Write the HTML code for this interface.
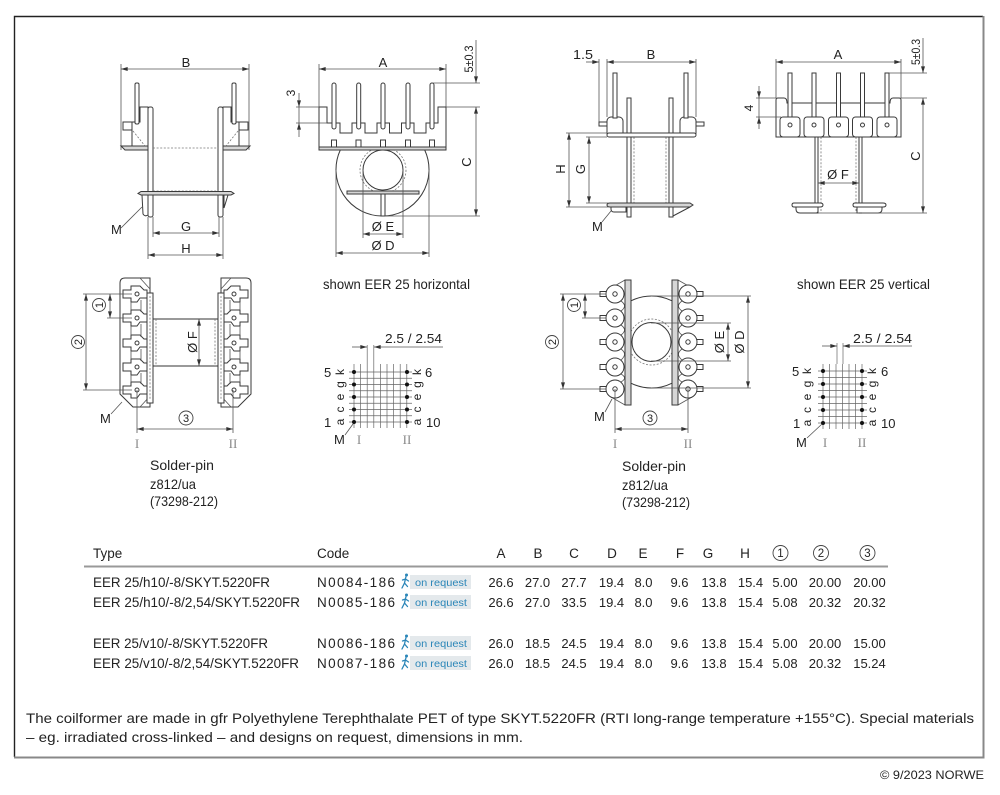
<!DOCTYPE html>
<html><head><meta charset="utf-8"><style>
html,body{margin:0;padding:0;background:#fff}
svg{display:block}
text{font-family:"Liberation Sans",sans-serif;fill:#222}
.o{fill:#fff;stroke:#3a3a3a;stroke-width:1}
.g{fill:#d6d6d6;stroke:#3a3a3a;stroke-width:1}
.d{fill:none;stroke:#555;stroke-width:.8}
.dd{fill:none;stroke:#777;stroke-width:.8;stroke-dasharray:2 1.6}
.gr{fill:none;stroke:#666;stroke-width:.7}
.rn{font-family:"Liberation Serif",serif;fill:#888;font-size:13px}
.bl{fill:#2b86b8}
</style></head><body>
<svg width="1000" height="795" viewBox="0 0 1000 795" xmlns="http://www.w3.org/2000/svg">
<defs>
<marker id="ar" viewBox="0 0 10 6" refX="10" refY="3" markerWidth="7" markerHeight="4" markerUnits="userSpaceOnUse" orient="auto-start-reverse"><path d="M0,0L10,3L0,6z" fill="#333"/></marker>
</defs>

<!-- border -->
<path d="M14.5,757 V16.5 H983" stroke="#222" stroke-width="1.4" fill="none"/>
<path d="M983.5,16 V757.5 H14" stroke="#888" stroke-width="2" fill="none"/>

<!-- ===== TOP LEFT: side view horizontal ===== -->
<line class="d" x1="121" y1="64" x2="121" y2="150"/>
<line class="d" x1="249" y1="64" x2="249" y2="150"/>
<line class="d" x1="121" y1="69" x2="249" y2="69" marker-start="url(#ar)" marker-end="url(#ar)"/>
<text x="186" y="67" text-anchor="middle" font-size="13">B</text>
<g id="tlh">
<path class="o" d="M140,107 H148 V147 H132 V122 H140 Z"/>
<rect class="o" x="123" y="122" width="9" height="8"/>
<path class="g" d="M121,146 H153 V150 H125 Z"/>
<rect class="o" x="135" y="83" width="4" height="41" rx="1.5"/>
<path class="dd" d="M133,131 L145,146"/>
<rect class="o" x="148" y="107" width="5" height="110" rx="2"/>
</g>
<use href="#tlh" transform="translate(371,0) scale(-1,1)"/>
<line class="dd" x1="153" y1="148" x2="218" y2="148"/>
<line class="dd" x1="153" y1="191" x2="218" y2="191"/>
<path class="g" d="M141,191.5 H231 L234,193.5 L231,195 H141 L138,193.5 Z"/>
<path class="o" d="M142,195 H148 V215 Q145,217 143,214 Z"/>
<path class="o" d="M224,195 L228,195 L224,208 Z"/>
<line class="d" x1="153" y1="217" x2="153" y2="237"/>
<line class="d" x1="219" y1="217" x2="219" y2="237"/>
<line class="d" x1="153" y1="233" x2="219" y2="233" marker-start="url(#ar)" marker-end="url(#ar)"/>
<text x="186" y="231" text-anchor="middle" font-size="13">G</text>
<line class="d" x1="148" y1="217" x2="148" y2="259"/>
<line class="d" x1="223" y1="217" x2="223" y2="259"/>
<line class="d" x1="148" y1="255" x2="223" y2="255" marker-start="url(#ar)" marker-end="url(#ar)"/>
<text x="186" y="253" text-anchor="middle" font-size="13">H</text>
<text x="111" y="234" font-size="13">M</text>
<line class="d" x1="121" y1="228" x2="142" y2="207"/>

<!-- ===== TOP MIDDLE: front view horizontal ===== -->
<line class="d" x1="319" y1="64" x2="319" y2="107"/>
<line class="d" x1="446" y1="64" x2="446" y2="107"/>
<line class="d" x1="319" y1="69" x2="446" y2="69" marker-start="url(#ar)" marker-end="url(#ar)"/>
<text x="383" y="67" text-anchor="middle" font-size="13">A</text>
<path class="o" d="M340.3,150 A46.5,46.5 0 1 0 424.7,150 Z"/>
<circle cx="383" cy="170" r="23" class="dd"/>
<circle cx="383" cy="170" r="20" class="o"/>
<rect class="g" x="347" y="191" width="72" height="3"/>
<rect class="o" x="381" y="194" width="4" height="22"/>
<path class="o" d="M319,147 V107 H327 V123 H340 V133 H352 V123 H365 V133 H377 V123 H389.5 V133 H401.5 V123 H414 V133 H426 V123 H438 V107 H446 V147 Z"/>
<rect class="g" x="319" y="147" width="127" height="3"/>
<g class="o">
<rect x="331.5" y="140" width="5" height="7"/><rect x="356" y="140" width="5" height="7"/><rect x="380.5" y="140" width="5" height="7"/><rect x="405.5" y="140" width="5" height="7"/><rect x="429.5" y="140" width="5" height="7"/>
<rect x="332" y="83" width="4" height="46" rx="2"/><rect x="356.7" y="83" width="4" height="46" rx="2"/><rect x="381" y="83" width="4" height="46" rx="2"/><rect x="406" y="83" width="4" height="46" rx="2"/><rect x="430" y="83" width="4" height="46" rx="2"/>
</g>
<line class="d" x1="363" y1="170" x2="363" y2="238"/>
<line class="d" x1="403" y1="170" x2="403" y2="238"/>
<line class="d" x1="363" y1="234" x2="403" y2="234" marker-start="url(#ar)" marker-end="url(#ar)"/>
<text x="383" y="231" text-anchor="middle" font-size="13">Ø E</text>
<line class="d" x1="336" y1="170" x2="336" y2="257"/>
<line class="d" x1="429" y1="170" x2="429" y2="257"/>
<line class="d" x1="336" y1="253" x2="429" y2="253" marker-start="url(#ar)" marker-end="url(#ar)"/>
<text x="383" y="250" text-anchor="middle" font-size="13">Ø D</text>
<line class="d" x1="432" y1="83" x2="480" y2="83"/>
<line class="d" x1="446" y1="107" x2="480" y2="107"/>
<line class="d" x1="385" y1="216" x2="480" y2="216"/>
<line class="d" x1="476" y1="40" x2="476" y2="83" marker-end="url(#ar)"/>
<line class="d" x1="476" y1="107" x2="476" y2="216" marker-start="url(#ar)" marker-end="url(#ar)"/>
<text transform="translate(473,59) rotate(-90)" text-anchor="middle" font-size="12" textLength="27" lengthAdjust="spacingAndGlyphs">5±0.3</text>
<text transform="translate(471,162) rotate(-90)" text-anchor="middle" font-size="13">C</text>
<line class="d" x1="296" y1="107" x2="319" y2="107"/>
<line class="d" x1="296" y1="123" x2="327" y2="123"/>
<line class="d" x1="299" y1="93" x2="299" y2="107" marker-end="url(#ar)"/>
<line class="d" x1="299" y1="137" x2="299" y2="123" marker-end="url(#ar)"/>
<line class="d" x1="299" y1="107" x2="299" y2="123"/>
<text transform="translate(295,93) rotate(-90)" text-anchor="middle" font-size="12">3</text>

<!-- ===== TOP RIGHT: side view vertical ===== -->
<line class="d" x1="599" y1="59" x2="599" y2="124"/>
<line class="d" x1="607" y1="59" x2="607" y2="117"/>
<line class="d" x1="696" y1="59" x2="696" y2="117"/>
<line class="d" x1="607" y1="62" x2="696" y2="62" marker-start="url(#ar)" marker-end="url(#ar)"/>
<line class="d" x1="586" y1="62" x2="599" y2="62" marker-end="url(#ar)"/>
<text x="651" y="59" text-anchor="middle" font-size="13">B</text>
<text x="573" y="59" font-size="13" textLength="20" lengthAdjust="spacingAndGlyphs">1.5</text>
<line class="dd" x1="634" y1="137" x2="634" y2="203"/>
<line class="dd" x1="666" y1="137" x2="666" y2="203"/>
<rect class="o" x="627" y="98" width="4" height="119"/>
<rect class="o" x="669" y="98" width="4" height="119"/>
<rect class="o" x="599" y="122" width="9" height="4"/>
<rect class="o" x="695" y="122" width="9" height="4"/>
<rect class="o" x="607" y="117" width="16" height="20" rx="4"/>
<rect class="o" x="680" y="117" width="16" height="20" rx="4"/>
<rect class="o" x="613" y="73" width="4" height="45"/>
<rect class="o" x="684" y="73" width="4" height="45"/>
<rect class="o" x="607" y="133" width="89" height="4" rx="2"/>
<path class="g" d="M610,203 H690 L693,205 L690,207 H610 Q607,207 607,205 Q607,203 610,203 Z"/>
<path class="o" d="M611,207 H626 V212 H614 Q611,212 611,209 Z"/>
<path class="o" d="M673,207 L690,207 L673,216 Z"/>
<line class="d" x1="566" y1="133" x2="607" y2="133"/>
<line class="d" x1="566" y1="207" x2="608" y2="207"/>
<line class="d" x1="569" y1="133" x2="569" y2="207" marker-start="url(#ar)" marker-end="url(#ar)"/>
<text transform="translate(565,169) rotate(-90)" text-anchor="middle" font-size="13">H</text>
<line class="d" x1="586" y1="137" x2="607" y2="137"/>
<line class="d" x1="586" y1="203" x2="608" y2="203"/>
<line class="d" x1="589" y1="137" x2="589" y2="203" marker-start="url(#ar)" marker-end="url(#ar)"/>
<text transform="translate(585,169) rotate(-90)" text-anchor="middle" font-size="13">G</text>
<text x="592" y="231" font-size="13">M</text>
<line class="d" x1="602" y1="222" x2="611" y2="211"/>

<!-- ===== FAR RIGHT: front view vertical ===== -->
<line class="d" x1="776" y1="59" x2="776" y2="98"/>
<line class="d" x1="901" y1="59" x2="901" y2="98"/>
<line class="d" x1="776" y1="62" x2="901" y2="62" marker-start="url(#ar)" marker-end="url(#ar)"/>
<text x="838" y="59" text-anchor="middle" font-size="13">A</text>
<line class="dd" x1="821" y1="137" x2="821" y2="213"/>
<line class="dd" x1="856" y1="137" x2="856" y2="213"/>
<rect class="o" x="815" y="137" width="3" height="76"/>
<rect class="o" x="859" y="137" width="3" height="76"/>
<path class="o" d="M776,137 V100 Q776,98 778,98 H784 Q787,98 787,103 H890 Q890,98 893,98 H899 Q901,98 901,100 V137 Z"/>
<g class="o">
<rect x="788" y="73" width="4" height="45"/><rect x="812" y="73" width="4" height="45"/><rect x="836.5" y="73" width="4" height="45"/><rect x="860.5" y="73" width="4" height="45"/><rect x="885" y="73" width="4" height="45"/>
<rect x="780" y="117" width="20" height="20" rx="3"/><rect x="804" y="117" width="20" height="20" rx="3"/><rect x="828.5" y="117" width="20" height="20" rx="3"/><rect x="852.5" y="117" width="20" height="20" rx="3"/><rect x="877" y="117" width="20" height="20" rx="3"/>
<circle cx="790" cy="125" r="2"/><circle cx="814" cy="125" r="2"/><circle cx="838.5" cy="125" r="2"/><circle cx="862.5" cy="125" r="2"/><circle cx="887" cy="125" r="2"/>
</g>
<path class="o" d="M794,203 H820 Q823,203 823,205 Q823,207 820,207 H794 Q792,207 792,205 Q792,203 794,203 Z"/>
<path class="o" d="M796,207 H818 V211 Q818,213 816,213 H800 Q796,213 796,209 Z"/>
<path class="o" d="M855,203 H883 Q886,203 886,205 Q886,207 883,207 H855 Q853,207 853,205 Q853,203 855,203 Z"/>
<path class="o" d="M857,207 H882 V209 Q882,213 878,213 H857 Z"/>
<line class="d" x1="818" y1="213" x2="859" y2="213"/>
<line class="d" x1="818" y1="183" x2="859" y2="183" marker-start="url(#ar)" marker-end="url(#ar)"/>
<text x="838" y="179" text-anchor="middle" font-size="13">Ø F</text>
<line class="d" x1="889" y1="73" x2="927" y2="73"/>
<line class="d" x1="901" y1="98" x2="927" y2="98"/>
<line class="d" x1="862" y1="213" x2="927" y2="213"/>
<line class="d" x1="923" y1="38" x2="923" y2="73" marker-end="url(#ar)"/>
<line class="d" x1="923" y1="98" x2="923" y2="213" marker-start="url(#ar)" marker-end="url(#ar)"/>
<text transform="translate(920,52) rotate(-90)" text-anchor="middle" font-size="12" textLength="26" lengthAdjust="spacingAndGlyphs">5±0.3</text>
<text transform="translate(920,156) rotate(-90)" text-anchor="middle" font-size="13">C</text>
<line class="d" x1="756" y1="98" x2="776" y2="98"/>
<line class="d" x1="756" y1="117" x2="781" y2="117"/>
<line class="d" x1="759" y1="86" x2="759" y2="98" marker-end="url(#ar)"/>
<line class="d" x1="759" y1="129" x2="759" y2="117" marker-end="url(#ar)"/>
<line class="d" x1="759" y1="98" x2="759" y2="117"/>
<text transform="translate(753,108) rotate(-90)" text-anchor="middle" font-size="12">4</text>

<text x="323" y="289" font-size="14" textLength="147" lengthAdjust="spacingAndGlyphs">shown EER 25 horizontal</text>
<text x="797" y="289" font-size="14" textLength="133" lengthAdjust="spacingAndGlyphs">shown EER 25 vertical</text>

<!-- ===== MIDDLE LEFT: top view horizontal ===== -->
<g id="lb">
<path class="o" d="M125,278 H150 V407 H133 L120,394 V283 Q120,278 125,278 Z"/>
<path class="d" d="M140,278 L150,289 M140,407 L150,396"/>
<rect class="o" x="147" y="293" width="6" height="110"/>
<line class="dd" x1="150" y1="296" x2="150" y2="400"/>
<g class="o">
<path d="M123,290 H131 V286 H140 L144,290 H147 V298 H140 L137,302 H131 V298 H123 Z"/>
<path d="M123,314 H131 V310 H140 L144,314 H147 V322 H140 L137,326 H131 V322 H123 Z"/>
<path d="M123,339 H131 V335 H140 L144,339 H147 V347 H140 L137,351 H131 V347 H123 Z"/>
<path d="M123,363 H131 V359 H140 L144,363 H147 V371 H140 L137,375 H131 V371 H123 Z"/>
<path d="M123,386 H131 V382 H140 L144,386 H147 V394 H140 L137,398 H131 V394 H123 Z"/>
<circle cx="137" cy="294" r="2"/><circle cx="137" cy="318" r="2"/><circle cx="137" cy="343" r="2"/><circle cx="137" cy="367" r="2"/><circle cx="137" cy="390" r="2"/>
</g>
<path class="d" d="M131,302 V310 M131,326 V335 M131,351 V359 M131,375 V382 M141,300 V312 M141,324 V337 M141,349 V361 M141,373 V384"/>
</g>
<use href="#lb" transform="translate(371,0) scale(-1,1)"/>
<line x1="153" y1="319" x2="218" y2="319" stroke="#333" stroke-width="1"/>
<line x1="153" y1="366" x2="218" y2="366" stroke="#333" stroke-width="1"/>
<line class="dd" x1="156" y1="319" x2="156" y2="366"/>
<line class="dd" x1="215" y1="319" x2="215" y2="366"/>
<line class="d" x1="199" y1="319" x2="199" y2="366" marker-start="url(#ar)" marker-end="url(#ar)"/>
<text transform="translate(197,342) rotate(-90)" text-anchor="middle" font-size="13">Ø F</text>
<line class="d" x1="83" y1="294" x2="132" y2="294"/>
<line class="d" x1="107" y1="318" x2="132" y2="318"/>
<line class="d" x1="83" y1="390" x2="132" y2="390"/>
<line class="d" x1="110" y1="294" x2="110" y2="318" marker-start="url(#ar)" marker-end="url(#ar)"/>
<line class="d" x1="86" y1="294" x2="86" y2="390" marker-start="url(#ar)" marker-end="url(#ar)"/>
<circle cx="99" cy="305" r="6.5" fill="#fff" stroke="#444" stroke-width=".9"/>
<text transform="translate(103,305) rotate(-90)" text-anchor="middle" font-size="11">1</text>
<circle cx="78" cy="342" r="6.5" fill="#fff" stroke="#444" stroke-width=".9"/>
<text transform="translate(82,342) rotate(-90)" text-anchor="middle" font-size="11">2</text>
<line class="d" x1="137" y1="390" x2="137" y2="433"/>
<line class="d" x1="233" y1="390" x2="233" y2="433"/>
<line class="d" x1="137" y1="429" x2="233" y2="429" marker-start="url(#ar)" marker-end="url(#ar)"/>
<circle cx="186" cy="418" r="7" fill="#fff" stroke="#444" stroke-width=".9"/>
<text x="186" y="422" text-anchor="middle" font-size="11">3</text>
<text x="100" y="423" font-size="13">M</text>
<line class="d" x1="111" y1="414" x2="122" y2="402"/>
<text class="rn" x="137" y="448" text-anchor="middle">I</text>
<text class="rn" x="233" y="448" text-anchor="middle">II</text>
<text x="150" y="470" font-size="14" textLength="64" lengthAdjust="spacingAndGlyphs">Solder-pin</text>
<text x="150" y="489" font-size="14" textLength="46" lengthAdjust="spacingAndGlyphs">z812/ua</text>
<text x="150" y="506" font-size="14" textLength="68" lengthAdjust="spacingAndGlyphs">(73298-212)</text>

<!-- grid left -->
<g class="gr">
<path d="M354,364V428M360.6,364V428M367.2,345V428M373.8,345V428M380.4,364V428M387,364V428M393.6,364V428M400.2,364V428M406.8,364V428"/>
<path d="M349,372H412M349,378.25H412M349,384.5H412M349,390.75H412M349,397H412M349,403.25H412M349,409.5H412M349,415.75H412M349,422H412"/>
</g>
<g fill="#111">
<circle cx="354" cy="372" r="2"/><circle cx="354" cy="384.5" r="2"/><circle cx="354" cy="397" r="2"/><circle cx="354" cy="409.5" r="2"/><circle cx="354" cy="422" r="2"/>
<circle cx="407" cy="372" r="2"/><circle cx="407" cy="384.5" r="2"/><circle cx="407" cy="397" r="2"/><circle cx="407" cy="409.5" r="2"/><circle cx="407" cy="422" r="2"/>
</g>
<line class="d" x1="352" y1="347" x2="367" y2="347" marker-end="url(#ar)"/>
<line class="d" x1="443" y1="347" x2="374" y2="347" marker-end="url(#ar)"/>
<text x="385" y="343" font-size="13" textLength="57" lengthAdjust="spacingAndGlyphs">2.5 / 2.54</text>
<text x="324" y="377" font-size="13">5</text>
<text x="324" y="427" font-size="13">1</text>
<text x="425" y="377" font-size="13">6</text>
<text x="426" y="427" font-size="13">10</text>
<g font-size="12" text-anchor="middle">
<text transform="translate(344,372) rotate(-90)">k</text><text transform="translate(344,384.5) rotate(-90)">g</text><text transform="translate(344,397) rotate(-90)">e</text><text transform="translate(344,409.5) rotate(-90)">c</text><text transform="translate(344,422) rotate(-90)">a</text>
<text transform="translate(421,372) rotate(-90)">k</text><text transform="translate(421,384.5) rotate(-90)">g</text><text transform="translate(421,397) rotate(-90)">e</text><text transform="translate(421,409.5) rotate(-90)">c</text><text transform="translate(421,422) rotate(-90)">a</text>
</g>
<text x="334" y="444" font-size="13">M</text>
<line class="d" x1="345" y1="435" x2="353" y2="424"/>
<text class="rn" x="359" y="444" text-anchor="middle">I</text>
<text class="rn" x="407" y="444" text-anchor="middle">II</text>

<!-- ===== MIDDLE RIGHT: top view vertical ===== -->
<path class="o" d="M631,300.8 A46,46 0 0 1 672,300.8 V383.2 A46,46 0 0 1 631,383.2 Z"/>
<circle cx="651.5" cy="342" r="23" class="dd"/>
<circle cx="651.5" cy="342" r="19.5" class="o"/>
<g id="rb">
<path class="d" d="M611,288 L625,280 M611,397 L625,405"/>
<g class="o">
<rect x="600" y="291.5" width="8" height="5"/><rect x="600" y="315.5" width="8" height="5"/><rect x="600" y="339.5" width="8" height="5"/><rect x="600" y="364.5" width="8" height="5"/><rect x="600" y="386.5" width="8" height="5"/>
<circle cx="615" cy="294" r="9"/><circle cx="615" cy="318" r="9"/><circle cx="615" cy="342" r="9"/><circle cx="615" cy="367" r="9"/><circle cx="615" cy="389" r="9"/>
<circle cx="615" cy="294" r="2.2"/><circle cx="615" cy="318" r="2.2"/><circle cx="615" cy="342" r="2.2"/><circle cx="615" cy="367" r="2.2"/><circle cx="615" cy="389" r="2.2"/>
</g>
<path class="d" d="M621,301 Q628,306 621,311 M621,325 Q628,330 621,335 M621,349 Q628,354 621,360 M621,374 Q628,378 621,382"/>
<path class="g" d="M625,280 H631 V405 H625 Z"/>
</g>
<use href="#rb" transform="translate(1303,0) scale(-1,1)"/>
<line class="d" x1="582" y1="294" x2="606" y2="294"/>
<line class="d" x1="560" y1="294" x2="582" y2="294"/>
<line class="d" x1="582" y1="318" x2="606" y2="318"/>
<line class="d" x1="560" y1="389" x2="606" y2="389"/>
<line class="d" x1="585" y1="294" x2="585" y2="318" marker-start="url(#ar)" marker-end="url(#ar)"/>
<line class="d" x1="563" y1="294" x2="563" y2="389" marker-start="url(#ar)" marker-end="url(#ar)"/>
<circle cx="574" cy="305" r="6.5" fill="#fff" stroke="#444" stroke-width=".9"/>
<text transform="translate(578,305) rotate(-90)" text-anchor="middle" font-size="11">1</text>
<circle cx="552" cy="342" r="6.5" fill="#fff" stroke="#444" stroke-width=".9"/>
<text transform="translate(556,342) rotate(-90)" text-anchor="middle" font-size="11">2</text>
<line class="d" x1="651" y1="323" x2="731" y2="323"/>
<line class="d" x1="651" y1="361" x2="731" y2="361"/>
<line class="d" x1="651" y1="296" x2="751" y2="296"/>
<line class="d" x1="651" y1="388" x2="751" y2="388"/>
<line class="d" x1="728" y1="323" x2="728" y2="361" marker-start="url(#ar)" marker-end="url(#ar)"/>
<line class="d" x1="748" y1="296" x2="748" y2="388" marker-start="url(#ar)" marker-end="url(#ar)"/>
<text transform="translate(724,342) rotate(-90)" text-anchor="middle" font-size="13">Ø E</text>
<text transform="translate(744,342) rotate(-90)" text-anchor="middle" font-size="13">Ø D</text>
<line class="d" x1="615" y1="389" x2="615" y2="433"/>
<line class="d" x1="688" y1="389" x2="688" y2="433"/>
<line class="d" x1="615" y1="429" x2="688" y2="429" marker-start="url(#ar)" marker-end="url(#ar)"/>
<circle cx="650" cy="418" r="7" fill="#fff" stroke="#444" stroke-width=".9"/>
<text x="650" y="422" text-anchor="middle" font-size="11">3</text>
<text x="594" y="421" font-size="13">M</text>
<line class="d" x1="605" y1="412" x2="612" y2="399"/>
<text class="rn" x="615" y="448" text-anchor="middle">I</text>
<text class="rn" x="688" y="448" text-anchor="middle">II</text>
<text x="622" y="471" font-size="14" textLength="64" lengthAdjust="spacingAndGlyphs">Solder-pin</text>
<text x="622" y="490" font-size="14" textLength="46" lengthAdjust="spacingAndGlyphs">z812/ua</text>
<text x="622" y="507" font-size="14" textLength="68" lengthAdjust="spacingAndGlyphs">(73298-212)</text>

<!-- grid right -->
<g class="gr">
<path d="M823,364V429M829.5,364V429M836,364V429M837,343V364M843,343V364M842.5,364V429M849,364V429M855.5,364V429M862,364V429"/>
<path d="M818,371H867M818,377.5H867M818,384H867M818,390.5H867M818,397H867M818,403.5H867M818,410H867M818,416.5H867M818,423H867"/>
</g>
<g fill="#111">
<circle cx="823" cy="371" r="2"/><circle cx="823" cy="384" r="2"/><circle cx="823" cy="397" r="2"/><circle cx="823" cy="410" r="2"/><circle cx="823" cy="423" r="2"/>
<circle cx="862" cy="371" r="2"/><circle cx="862" cy="384" r="2"/><circle cx="862" cy="397" r="2"/><circle cx="862" cy="410" r="2"/><circle cx="862" cy="423" r="2"/>
</g>
<line class="d" x1="822" y1="346" x2="837" y2="346" marker-end="url(#ar)"/>
<line class="d" x1="912" y1="346" x2="843" y2="346" marker-end="url(#ar)"/>
<text x="853" y="343" font-size="13" textLength="59" lengthAdjust="spacingAndGlyphs">2.5 / 2.54</text>
<text x="792" y="376" font-size="13">5</text>
<text x="793" y="428" font-size="13">1</text>
<text x="881" y="376" font-size="13">6</text>
<text x="881" y="428" font-size="13">10</text>
<g font-size="12" text-anchor="middle">
<text transform="translate(811,371) rotate(-90)">k</text><text transform="translate(811,384) rotate(-90)">g</text><text transform="translate(811,397) rotate(-90)">e</text><text transform="translate(811,410) rotate(-90)">c</text><text transform="translate(811,423) rotate(-90)">a</text>
<text transform="translate(876,371) rotate(-90)">k</text><text transform="translate(876,384) rotate(-90)">g</text><text transform="translate(876,397) rotate(-90)">e</text><text transform="translate(876,410) rotate(-90)">c</text><text transform="translate(876,423) rotate(-90)">a</text>
</g>
<text x="796" y="447" font-size="13">M</text>
<line class="d" x1="807" y1="438" x2="822" y2="424"/>
<text class="rn" x="825" y="447" text-anchor="middle">I</text>
<text class="rn" x="862" y="447" text-anchor="middle">II</text>

<!-- ===== TABLE ===== -->
<g font-size="13.5">
<text x="93" y="558">Type</text>
<text x="317" y="558">Code</text>
<g text-anchor="middle">
<text x="501" y="558">A</text><text x="538" y="558">B</text><text x="574" y="558">C</text><text x="612" y="558">D</text><text x="643" y="558">E</text><text x="680" y="558">F</text><text x="708" y="558">G</text><text x="745" y="558">H</text>
</g>
</g>
<g fill="#fff" stroke="#444" stroke-width=".9">
<circle cx="780.5" cy="553" r="7.5"/><circle cx="821" cy="553" r="7.5"/><circle cx="867.5" cy="553" r="7.5"/>
</g>
<g font-size="11.5" text-anchor="middle">
<text x="780.5" y="557">1</text><text x="821" y="557">2</text><text x="867.5" y="557">3</text>
</g>
<line x1="84" y1="566.5" x2="888" y2="566.5" stroke="#999" stroke-width="2"/>

<g font-size="13.5">
<text x="93" y="587" textLength="177" lengthAdjust="spacingAndGlyphs">EER 25/h10/-8/SKYT.5220FR</text>
<text x="93" y="607" textLength="207" lengthAdjust="spacingAndGlyphs">EER 25/h10/-8/2,54/SKYT.5220FR</text>
<text x="93" y="648" textLength="175" lengthAdjust="spacingAndGlyphs">EER 25/v10/-8/SKYT.5220FR</text>
<text x="93" y="668" textLength="206" lengthAdjust="spacingAndGlyphs">EER 25/v10/-8/2,54/SKYT.5220FR</text>
<text x="317" y="587" textLength="78" lengthAdjust="spacing">N0084-186</text>
<text x="317" y="607" textLength="78" lengthAdjust="spacing">N0085-186</text>
<text x="317" y="648" textLength="78" lengthAdjust="spacing">N0086-186</text>
<text x="317" y="668" textLength="78" lengthAdjust="spacing">N0087-186</text>
</g>
<g fill="#e4e9ec">
<rect x="410" y="575" width="61" height="14"/><rect x="410" y="595" width="61" height="14"/><rect x="410" y="636" width="61" height="14"/><rect x="410" y="656" width="61" height="14"/>
</g>
<g font-size="10.5">
<text class="bl" x="415" y="586" textLength="52" lengthAdjust="spacingAndGlyphs">on request</text>
<text class="bl" x="415" y="606" textLength="52" lengthAdjust="spacingAndGlyphs">on request</text>
<text class="bl" x="415" y="647" textLength="52" lengthAdjust="spacingAndGlyphs">on request</text>
<text class="bl" x="415" y="667" textLength="52" lengthAdjust="spacingAndGlyphs">on request</text>
</g>
<g fill="none" stroke="#2b86b8" stroke-width="1.3" stroke-linecap="round">
<path d="M406,576.5 L404.5,583 L402,588 M404.5,583 L407.5,586.5 M405.5,579 L408.5,581 M405.5,579 L402.5,580"/>
<path d="M406,596.5 L404.5,603 L402,608 M404.5,603 L407.5,606.5 M405.5,599 L408.5,601 M405.5,599 L402.5,600"/>
<path d="M406,637.5 L404.5,644 L402,649 M404.5,644 L407.5,647.5 M405.5,640 L408.5,642 M405.5,640 L402.5,641"/>
<path d="M406,657.5 L404.5,664 L402,669 M404.5,664 L407.5,667.5 M405.5,660 L408.5,662 M405.5,660 L402.5,661"/>
</g>
<g fill="#2b86b8">
<circle cx="406.5" cy="575" r="1.5"/><circle cx="406.5" cy="595" r="1.5"/><circle cx="406.5" cy="636" r="1.5"/><circle cx="406.5" cy="656" r="1.5"/>
</g>

<g font-size="13" text-anchor="middle">
<!-- row1 -->
<text x="501" y="587">26.6</text><text x="537.5" y="587">27.0</text><text x="574" y="587">27.7</text><text x="611.5" y="587">19.4</text><text x="643.5" y="587">8.0</text><text x="679.5" y="587">9.6</text><text x="714" y="587">13.8</text><text x="750.5" y="587">15.4</text><text x="785" y="587">5.00</text><text x="825" y="587">20.00</text><text x="869.5" y="587">20.00</text>
<!-- row2 -->
<text x="501" y="607">26.6</text><text x="537.5" y="607">27.0</text><text x="574" y="607">33.5</text><text x="611.5" y="607">19.4</text><text x="643.5" y="607">8.0</text><text x="679.5" y="607">9.6</text><text x="714" y="607">13.8</text><text x="750.5" y="607">15.4</text><text x="785" y="607">5.08</text><text x="825" y="607">20.32</text><text x="869.5" y="607">20.32</text>
<!-- row3 -->
<text x="501" y="648">26.0</text><text x="537.5" y="648">18.5</text><text x="574" y="648">24.5</text><text x="611.5" y="648">19.4</text><text x="643.5" y="648">8.0</text><text x="679.5" y="648">9.6</text><text x="714" y="648">13.8</text><text x="750.5" y="648">15.4</text><text x="785" y="648">5.00</text><text x="825" y="648">20.00</text><text x="869.5" y="648">15.00</text>
<!-- row4 -->
<text x="501" y="668">26.0</text><text x="537.5" y="668">18.5</text><text x="574" y="668">24.5</text><text x="611.5" y="668">19.4</text><text x="643.5" y="668">8.0</text><text x="679.5" y="668">9.6</text><text x="714" y="668">13.8</text><text x="750.5" y="668">15.4</text><text x="785" y="668">5.08</text><text x="825" y="668">20.32</text><text x="869.5" y="668">15.24</text>
</g>

<!-- footer -->
<text x="26" y="723" font-size="14" textLength="948" lengthAdjust="spacingAndGlyphs">The coilformer are made in gfr Polyethylene Terephthalate PET of type SKYT.5220FR (RTI long-range temperature +155°C). Special materials</text>
<text x="26" y="742" font-size="14" textLength="497" lengthAdjust="spacingAndGlyphs">– eg. irradiated cross-linked – and designs on request, dimensions in mm.</text>
<text x="880" y="779" font-size="12" textLength="104" lengthAdjust="spacingAndGlyphs">© 9/2023 NORWE</text>
</svg>
</body></html>
